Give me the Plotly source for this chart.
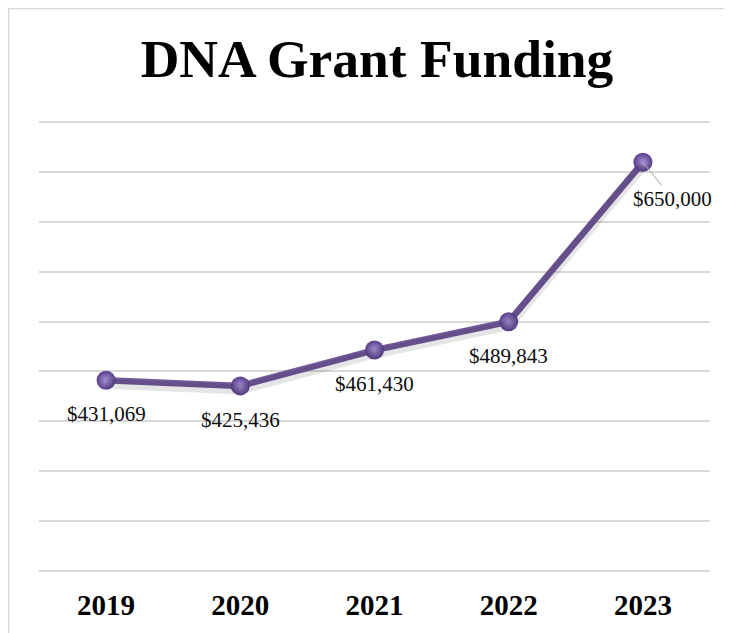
import plotly.graph_objects as go

years = ["2019", "2020", "2021", "2022", "2023"]
funding = [431069, 425436, 461430, 489843, 650000]
title_text = "DNA Grant Funding"

W, H = 732, 633
L, R, T, B = 31, 30, 112.2, 68.2
Y_RANGE = [237500, 692500]
SHADOW_SHIFT = 3500  # value units, about 3.5 px

fig = go.Figure()
# soft drop shadow of the line (same data on a slightly shifted overlay axis)
fig.add_trace(go.Scatter(
    x=years, y=funding, mode="lines", yaxis="y2",
    line=dict(color="rgba(0,0,0,0.10)", width=10),
    hoverinfo="skip", showlegend=False,
))
fig.add_trace(go.Scatter(
    x=years, y=funding, mode="lines+markers",
    line=dict(color="#71599b", width=6.5),
    marker=dict(size=19, color="#573e8a",
                gradient=dict(type="radial", color="#a994d6"),
                line=dict(width=0)),
    hoverinfo="skip", showlegend=False,
))

annotations = []
for i, v in enumerate(funding):
    label = "&#36;" + "{:,}".format(v)
    if i == len(funding) - 1:
        annotations.append(dict(
            x=i, y=v, xref="x", yref="y", text=label,
            showarrow=True, ax=30, ay=37, arrowhead=0, arrowwidth=1,
            arrowcolor="#a6a6a6", standoff=0,
            font=dict(family="Liberation Serif", size=21, color="#0d0d0d")))
    else:
        annotations.append(dict(
            x=i, y=v, xref="x", yref="y", text=label, showarrow=False,
            yshift=-34,
            font=dict(family="Liberation Serif", size=21, color="#0d0d0d")))

pw = W - L - R
ph = H - T - B
fig.add_shape(type="rect", xref="paper", yref="paper",
              x0=(0.75 - L) / pw, x1=(W + 20 - L) / pw,
              y0=(H - B - H - 20) / ph, y1=(H - B - 0.75) / ph,
              line=dict(color="#d9d9d9", width=1.5), fillcolor="rgba(0,0,0,0)",
              layer="below")

fig.update_layout(
    width=W, height=H,
    margin=dict(l=L, r=R, t=T, b=B),
    paper_bgcolor="white", plot_bgcolor="white",
    title=dict(text="<b>" + title_text + "</b>", x=369 / W, xanchor="center",
               y=1 - 50 / H, yanchor="middle", yref="container",
               font=dict(family="Liberation Serif", size=53.5, color="black")),
    xaxis=dict(type="category", range=[-0.5, 4.5], showgrid=False,
               showline=False, zeroline=False, ticks="outside", ticklen=6,
               tickcolor="rgba(0,0,0,0)",
               tickvals=years, ticktext=["<b>" + y + "</b>" for y in years],
               tickfont=dict(family="Liberation Serif", size=29, color="black")),
    yaxis=dict(range=Y_RANGE, tick0=240000, dtick=50000,
               showgrid=True, gridcolor="#d9d9d9", gridwidth=1.5,
               showticklabels=False, zeroline=False, showline=False),
    yaxis2=dict(range=[Y_RANGE[0] + SHADOW_SHIFT, Y_RANGE[1] + SHADOW_SHIFT],
                overlaying="y", visible=False, showgrid=False),
    annotations=annotations,
)

fig.write_html("out.html")
